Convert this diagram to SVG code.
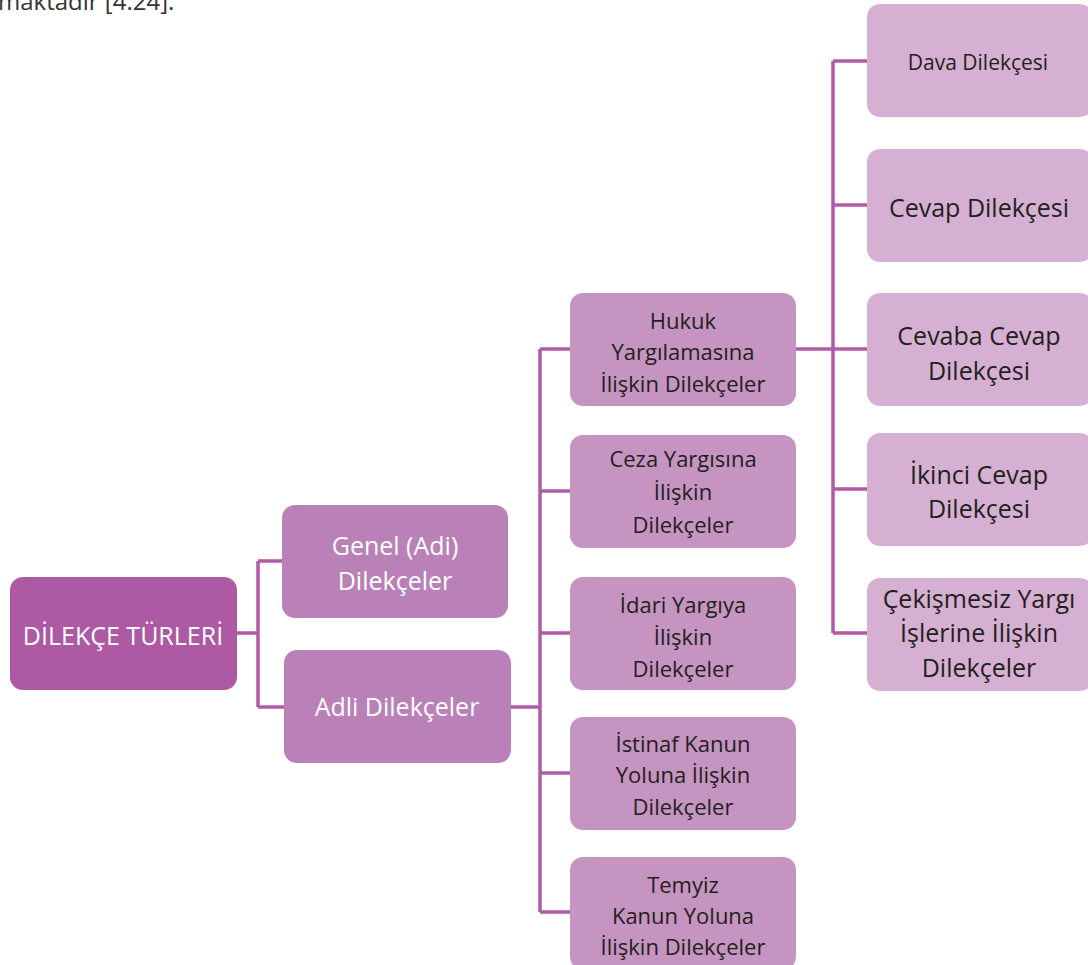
<svg xmlns="http://www.w3.org/2000/svg" width="1088" height="965" viewBox="0 0 1088 965">
<style>
text{font-family:"Open Sans","Liberation Sans",sans-serif;text-anchor:middle}
.l0 rect{fill:#ad59a3}
.l1 rect{fill:#b981b7}
.l2 rect{fill:#c594c0}
.l3 rect{fill:#d6b0d2}
.w{fill:#ffffff}
.d{fill:#231f20}
.conn path{fill:none;stroke:#b05aa8;stroke-width:3.5}
</style>
<rect width="1088" height="965" fill="#ffffff"/>
<text x="-2" y="10" style="text-anchor:start" font-size="24" fill="#333333">maktadır [4.24].</text>
<g class="conn">
<path d="M237 633H258M258 561V707M258 561H282M258 707H284"/>
<path d="M511 707H540M540 349V912M540 349H570M540 491H570M540 633H570M540 773H570M540 912H570"/>
<path d="M796 349H833M833 61V633M833 61H867M833 205H867M833 349H867M833 489H867M833 633H867"/>
</g>
<g id="root" class="l0"><rect x="10" y="577" width="227" height="113" rx="13"/><text class="w" x="123" y="645" font-size="25">DİLEKÇE TÜRLERİ</text></g>
<g id="genel" class="l1"><rect x="282" y="505" width="226" height="113" rx="13"/><text class="w" x="395" font-size="25"><tspan x="395" y="555">Genel (Adi)</tspan><tspan x="395" y="590">Dilekçeler</tspan></text></g>
<g id="adli" class="l1"><rect x="284" y="650" width="227" height="113" rx="13"/><text class="w" x="397" y="716" font-size="25">Adli Dilekçeler</text></g>
<g id="hukuk" class="l2"><rect x="570" y="293" width="226" height="113" rx="13"/><text class="d" font-size="22"><tspan x="683" y="329">Hukuk</tspan><tspan x="683" y="360">Yargılamasına</tspan><tspan x="683" y="392">İlişkin Dilekçeler</tspan></text></g>
<g id="ceza" class="l2"><rect x="570" y="435" width="226" height="113" rx="13"/><text class="d" font-size="22"><tspan x="683" y="467">Ceza Yargısına</tspan><tspan x="683" y="500">İlişkin</tspan><tspan x="683" y="533">Dilekçeler</tspan></text></g>
<g id="idari" class="l2"><rect x="570" y="577" width="226" height="113" rx="13"/><text class="d" font-size="22"><tspan x="683" y="613">İdari Yargıya</tspan><tspan x="683" y="645">İlişkin</tspan><tspan x="683" y="677">Dilekçeler</tspan></text></g>
<g id="istinaf" class="l2"><rect x="570" y="717" width="226" height="113" rx="13"/><text class="d" font-size="22"><tspan x="683" y="752">İstinaf Kanun</tspan><tspan x="683" y="783">Yoluna İlişkin</tspan><tspan x="683" y="815">Dilekçeler</tspan></text></g>
<g id="temyiz" class="l2"><rect x="570" y="857" width="226" height="113" rx="13"/><text class="d" font-size="22"><tspan x="683" y="893">Temyiz</tspan><tspan x="683" y="924">Kanun Yoluna</tspan><tspan x="683" y="955">İlişkin Dilekçeler</tspan></text></g>
<g id="dava" class="l3"><rect x="867" y="4" width="226" height="113" rx="13"/><text class="d" x="978" y="70" font-size="21">Dava Dilekçesi</text></g>
<g id="cevap" class="l3"><rect x="867" y="149" width="226" height="113" rx="13"/><text class="d" x="979" y="217" font-size="25">Cevap Dilekçesi</text></g>
<g id="cevaba" class="l3"><rect x="867" y="293" width="226" height="113" rx="13"/><text class="d" font-size="25"><tspan x="979" y="345">Cevaba Cevap</tspan><tspan x="979" y="380">Dilekçesi</tspan></text></g>
<g id="ikinci" class="l3"><rect x="867" y="433" width="226" height="113" rx="13"/><text class="d" font-size="25"><tspan x="979" y="484">İkinci Cevap</tspan><tspan x="979" y="518">Dilekçesi</tspan></text></g>
<g id="cekismesiz" class="l3"><rect x="867" y="578" width="226" height="113" rx="13"/><text class="d" font-size="25"><tspan x="979" y="608">Çekişmesiz Yargı</tspan><tspan x="979" y="642">İşlerine İlişkin</tspan><tspan x="979" y="677">Dilekçeler</tspan></text></g>
</svg>
